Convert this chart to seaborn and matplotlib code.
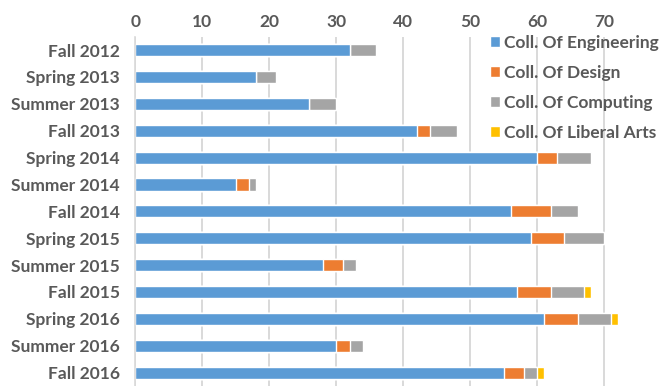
import seaborn as sns
import pandas as pd
import numpy as np
import matplotlib.pyplot as plt

sns.set_style("white")
plt.rcParams['font.family'] = ['Lato', 'DejaVu Sans']

# data
terms = ["Fall 2012", "Spring 2013", "Summer 2013", "Fall 2013", "Spring 2014",
         "Summer 2014", "Fall 2014", "Spring 2015", "Summer 2015", "Fall 2015",
         "Spring 2016", "Summer 2016", "Fall 2016"]
engineering = [32, 18, 26, 42, 60, 15, 56, 59, 28, 57, 61, 30, 55]
design = [0, 0, 0, 2, 3, 2, 6, 5, 3, 5, 5, 2, 3]
computing = [4, 3, 4, 4, 5, 1, 4, 6, 2, 5, 5, 2, 2]
liberal_arts = [0, 0, 0, 0, 0, 0, 0, 0, 0, 1, 1, 0, 1]

series = ["Coll. Of Engineering", "Coll. Of Design", "Coll. Of Computing", "Coll. Of Liberal Arts"]
colors = ["#5B9BD5", "#ED7D31", "#A5A5A5", "#FFC000"]

df = pd.DataFrame({"term": terms, series[0]: engineering, series[1]: design,
                   series[2]: computing, series[3]: liberal_arts})
cum = df[series].cumsum(axis=1)

fig = plt.figure(figsize=(6.66, 3.86), dpi=100)
ax = fig.add_axes([0.203, 0.0, 0.797, 0.905])

# stacked bars: draw cumulative totals, largest first
for name, col in reversed(list(zip(series, colors))):
    sns.barplot(x=cum[name], y=df["term"], color=col, width=0.45,
                saturation=1, ax=ax, label=name, orient="h")

ax.set_xlim(0, 79.2)
ax.set_xticks(range(0, 80, 10))
ax.xaxis.tick_top()
ax.set_xlabel("")
ax.set_ylabel("")
ax.grid(axis="x", color="#D9D9D9", linewidth=1.4)
ax.set_axisbelow(True)
for s in ["top", "right", "bottom"]:
    ax.spines[s].set_visible(False)
ax.spines["left"].set_color("#D9D9D9")
ax.spines["left"].set_linewidth(1.2)
ax.tick_params(axis="both", length=0, labelsize=12.5, labelcolor="#595959")
ax.tick_params(axis="y", pad=11)
ax.tick_params(axis="x", pad=5)
for lab in ax.get_xticklabels() + ax.get_yticklabels():
    lab.set_fontweight("bold")

handles, labels = ax.get_legend_handles_labels()
order = [labels.index(n) for n in series]
leg = ax.legend([handles[i] for i in order], [labels[i] for i in order],
                loc="upper right", bbox_to_anchor=(1.0, 1.025), frameon=False,
                borderaxespad=0, handlelength=0.6, handleheight=0.6,
                handletextpad=0.25, labelspacing=0.8,
                prop={"size": 12.5, "weight": "bold"})
for t in leg.get_texts():
    t.set_color("#595959")

fig.savefig("out.png", dpi=100)
